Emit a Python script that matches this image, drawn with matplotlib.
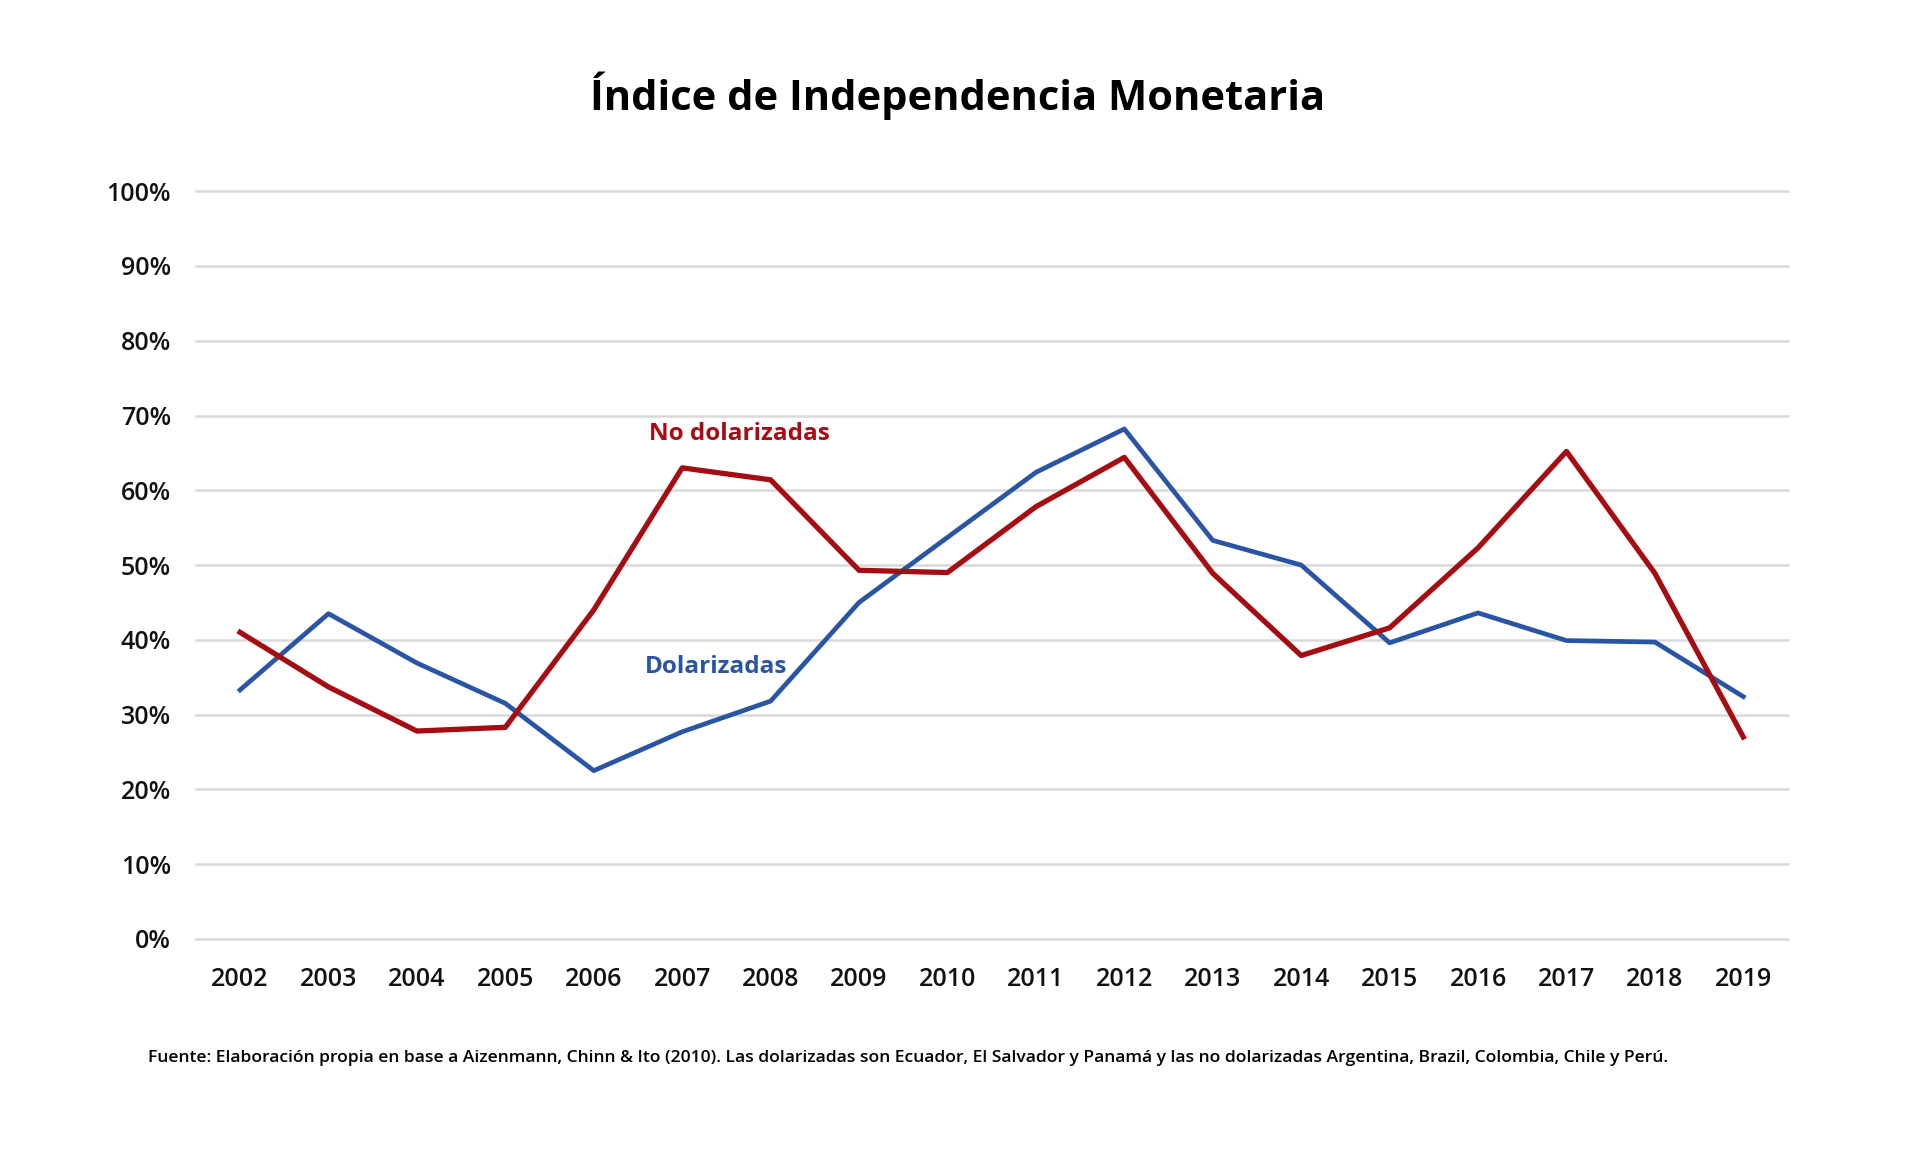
import matplotlib.pyplot as plt
import numpy as np
from matplotlib.ticker import PercentFormatter

years = [str(y) for y in range(2002, 2020)]
dolarizadas = [33.3, 43.5, 36.9, 31.5, 22.5, 27.7, 31.8, 45.0, 53.7, 62.4,
               68.2, 53.3, 50.0, 39.6, 43.6, 39.9, 39.7, 32.4]
no_dolarizadas = [41.0, 33.7, 27.8, 28.3, 44.0, 63.0, 61.4, 49.3, 49.0, 57.8,
                  64.4, 48.9, 37.9, 41.6, 52.3, 65.2, 48.9, 27.0]

red = '#A50D12'
blue = '#2A55A5'
font = ['Open Sans', 'DejaVu Sans']

fig = plt.figure(figsize=(19.2, 11.52), dpi=100)
ax = fig.add_axes([0.102, 0.185, 0.829, 0.649])

x = np.arange(len(years))
ax.plot(x, np.array(dolarizadas) / 100, color=blue, lw=3.4, zorder=3)
ax.plot(x, np.array(no_dolarizadas) / 100, color=red, lw=3.8, zorder=3)

ax.set_xlim(-0.5, len(years) - 0.5)
ax.set_ylim(0, 1)
ax.set_yticks(np.arange(0, 1.01, 0.1))
ax.yaxis.set_major_formatter(PercentFormatter(1.0, decimals=0))
ax.set_xticks(x)
ax.set_xticklabels(years)
ax.grid(axis='y', color='#D9D9D9', lw=1.8, clip_on=False)
ax.set_axisbelow(True)
for s in ax.spines.values():
    s.set_visible(False)
ax.tick_params(length=0, labelsize=18, colors='#111111')
ax.tick_params(axis='x', pad=20)
ax.tick_params(axis='y', pad=18)
for lab in ax.get_xticklabels() + ax.get_yticklabels():
    lab.set_family(font)
    lab.set_fontweight('semibold')

ax.text(4.62, 0.675, 'No dolarizadas', color=red, fontsize=17.5, fontweight='bold',
        family=font, va='center', ha='left')
ax.text(4.58, 0.363, 'Dolarizadas', color=blue, fontsize=17.5, fontweight='bold',
        family=font, va='center', ha='left')

fig.text(0.4985, 0.917, 'Índice de Independencia Monetaria', fontsize=30,
         fontweight='bold', family=font, ha='center', va='center')
fig.text(0.077, 0.082, 'Fuente: Elaboración propia en base a Aizenmann, Chinn & Ito (2010). '
         'Las dolarizadas son Ecuador, El Salvador y Panamá y las no dolarizadas Argentina, '
         'Brazil, Colombia, Chile y Perú.', fontsize=12.6, fontweight='semibold',
         family=font, ha='left', va='center')

fig.savefig('out.png', dpi=100)
